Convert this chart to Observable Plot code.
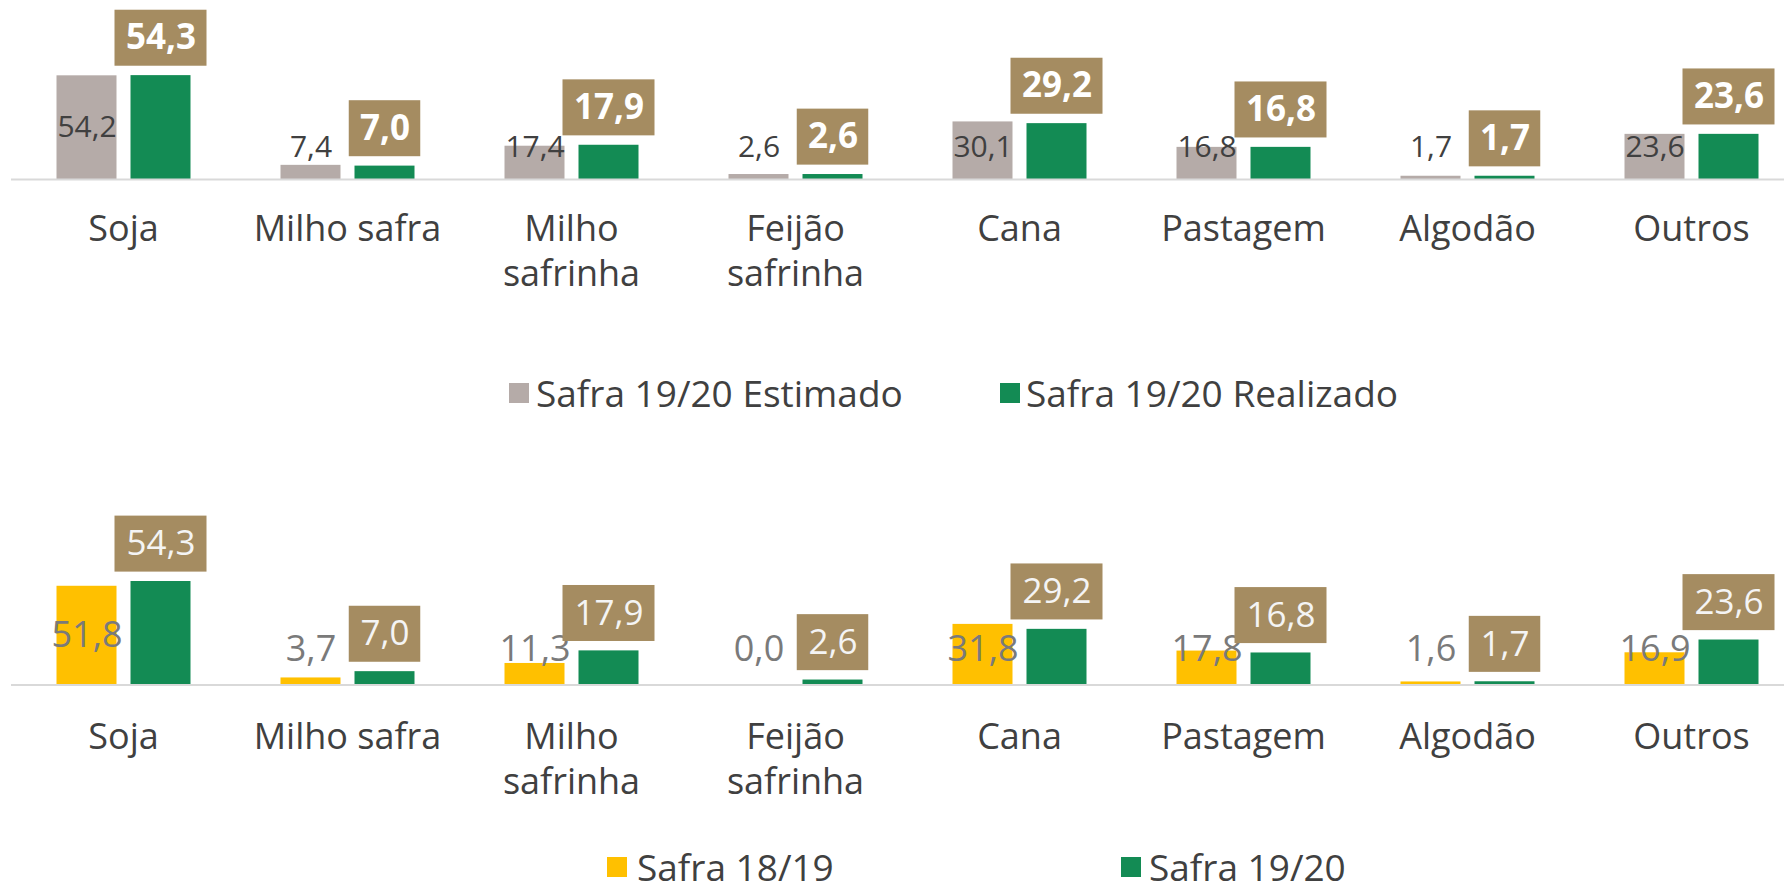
<!DOCTYPE html>
<html>
<head>
<meta charset="utf-8">
<script src="https://cdn.jsdelivr.net/npm/d3@7"></script>
<script src="https://cdn.jsdelivr.net/npm/@observablehq/plot@0.6"></script>
<style>
  html, body { margin: 0; padding: 0; background: #fff; }
  body { width: 1784px; height: 890px; position: relative; overflow: hidden; font-family: "Open Sans", sans-serif; }
  .chart { position: absolute; left: 0; }
  .legend-item { position: absolute; display: flex; align-items: center; height: 34px; line-height: 34px; font-size: 37px; color: #404040; white-space: nowrap; }
  .sw { width: 20px; height: 20px; display: inline-block; flex: none; }
</style>
</head>
<body>
<div id="top" class="chart" style="top:0px"></div>
<div id="bottom" class="chart" style="top:490px"></div>
<script>
// ---- data ----
const categories = ["Soja", "Milho safra", "Milho safrinha", "Feijão safrinha", "Cana", "Pastagem", "Algodão", "Outros"];
const categoryLabels = ["Soja", "Milho safra", "Milho\nsafrinha", "Feijão\nsafrinha", "Cana", "Pastagem", "Algodão", "Outros"];
const estimado1920 = [54.2, 7.4, 17.4, 2.6, 30.1, 16.8, 1.7, 23.6];
const realizado1920 = [54.3, 7.0, 17.9, 2.6, 29.2, 16.8, 1.7, 23.6];
const safra1819 = [51.8, 3.7, 11.3, 0.0, 31.8, 17.8, 1.6, 16.9];
const safra1920 = [54.3, 7.0, 17.9, 2.6, 29.2, 16.8, 1.7, 23.6];
const legendTop = ["Safra 19/20 Estimado", "Safra 19/20 Realizado"];
const legendBottom = ["Safra 18/19", "Safra 19/20"];

const GRAY = "#b5aba8", GREEN = "#138b54", GOLD = "#ffc000", BOX = "#a58c61";
const fmt = v => v.toFixed(1).replace(".", ",");

function rowsOf(a, b) {
  const rows = [];
  categories.forEach((c, i) => {
    rows.push({cat: c, series: "a", value: a[i]});
    rows.push({cat: c, series: "b", value: b[i]});
  });
  return rows;
}

function makeChart(o) {
  const rows = rowsOf(o.a, o.b);
  const isA = d => d.series === "a";
  const isB = d => d.series === "b";
  return Plot.plot({
    width: 1784,
    height: o.height,
    marginLeft: 10.5,
    marginRight: -20,
    marginTop: 0,
    marginBottom: o.marginBottom,
    style: {fontFamily: "Open Sans, sans-serif", background: "white", overflow: "visible"},
    facet: {data: rows, x: "cat"},
    fx: {domain: categories, padding: 0, axis: null},
    x: {domain: ["a", "b"], paddingInner: 0.195, paddingOuter: 0.602, axis: null},
    y: {domain: [0, o.ymax], axis: null},
    marks: [
      Plot.barY(rows, {filter: isA, x: "series", y: "value", fill: o.colorA}),
      Plot.barY(rows, {filter: isB, x: "series", y: "value", fill: o.colorB}),
      Plot.ruleY([0], {stroke: "#d9d9d9", strokeWidth: 2}),
      // value labels of first series
      Plot.text(rows, {filter: isA, x: "series", y: d => Math.max(d.value / 2, o.labelMin),
        text: d => fmt(d.value), fill: o.estColor, fontSize: o.estSize, lineAnchor: "middle"}),
      // boxed labels of second series
      Plot.barY(rows, {filter: d => isB(d) && fmt(d.value).length > 3, x: "series", y1: "value", y2: "value",
        fill: BOX, insetTop: -65.4, insetBottom: 9.4, insetLeft: -16, insetRight: -16}),
      Plot.barY(rows, {filter: d => isB(d) && fmt(d.value).length <= 3, x: "series", y1: "value", y2: "value",
        fill: BOX, insetTop: -65.4, insetBottom: 9.4, insetLeft: -5.75, insetRight: -5.75}),
      Plot.text(rows, {filter: isB, x: "series", y: "value", dy: -37.4, text: d => fmt(d.value),
        fill: o.boxText, fontSize: 35, fontWeight: o.boxWeight, lineAnchor: "middle"}),
      // category labels
      Plot.text(rows, {filter: isA, y: () => 0, dy: o.catDy, frameAnchor: "middle",
        text: d => categoryLabels[categories.indexOf(d.cat)], fill: "#404040", fontSize: 36,
        lineAnchor: "top", lineHeight: o.lineHeight})
    ]
  });
}

document.getElementById("top").append(makeChart({
  a: estimado1920, b: realizado1920, colorA: GRAY, colorB: GREEN,
  height: 330, marginBottom: 151, ymax: 93.57,
  labelMin: 16.7, estColor: "#404040", estSize: 30,
  boxText: "#ffffff", boxWeight: "bold", catDy: 30, lineHeight: 1.25
}));
document.getElementById("bottom").append(makeChart({
  a: safra1819, b: safra1920, colorA: GOLD, colorB: GREEN,
  height: 330, marginBottom: 135.5, ymax: 102.05,
  labelMin: 18.4, estColor: "#7a7a7a", estSize: 36,
  boxText: "#f4f4f4", boxWeight: "normal", catDy: 31.5, lineHeight: 1.26
}));

function legendItem(label, color, left, top, gap) {
  const d = document.createElement("div");
  d.className = "legend-item";
  d.style.left = left + "px";
  d.style.top = top + "px";
  const s = document.createElement("span");
  s.className = "sw";
  s.style.background = color;
  s.style.marginRight = gap + "px";
  d.append(s, document.createTextNode(label));
  document.body.append(d);
}
legendItem(legendTop[0], GRAY, 509, 376, 7);
legendItem(legendTop[1], GREEN, 1000, 376, 6);
legendItem(legendBottom[0], GOLD, 607, 850, 10);
legendItem(legendBottom[1], GREEN, 1121, 850, 8);
</script>
</body>
</html>
